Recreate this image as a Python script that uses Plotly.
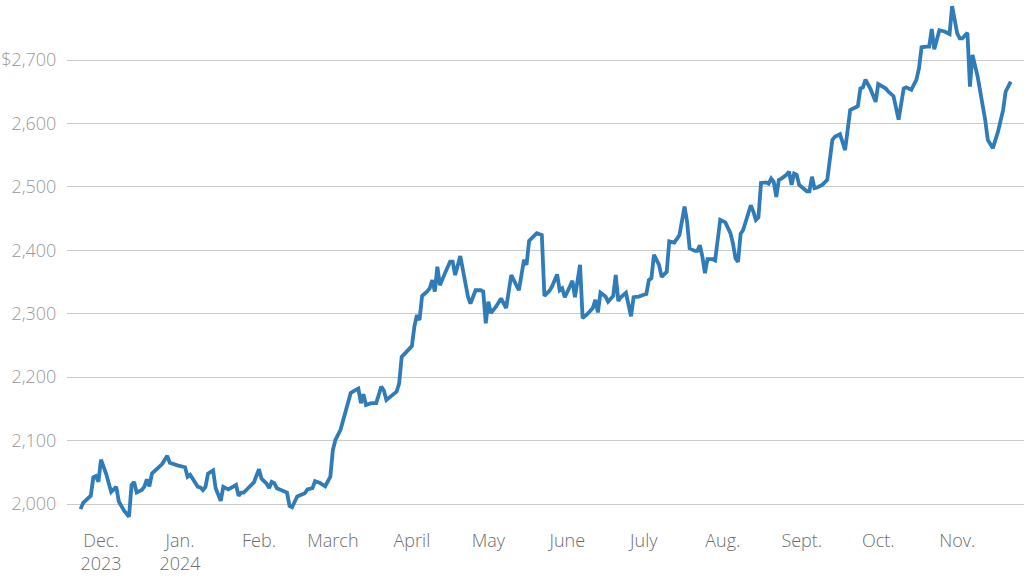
import plotly.graph_objects as go

dates = [
    "2023-11-23", "2023-11-24", "2023-11-27", "2023-11-28", "2023-11-29", "2023-11-30",
    "2023-12-01", "2023-12-03", "2023-12-05", "2023-12-07", "2023-12-08", "2023-12-10",
    "2023-12-12", "2023-12-13", "2023-12-14", "2023-12-15", "2023-12-17", "2023-12-18",
    "2023-12-19", "2023-12-20", "2023-12-21", "2023-12-23", "2023-12-25", "2023-12-27",
    "2023-12-28", "2023-12-31",
    "2024-01-03", "2024-01-04", "2024-01-05", "2024-01-08", "2024-01-09", "2024-01-10",
    "2024-01-11", "2024-01-12", "2024-01-14", "2024-01-15", "2024-01-17", "2024-01-18",
    "2024-01-20", "2024-01-23", "2024-01-24", "2024-01-25", "2024-01-26", "2024-01-28",
    "2024-01-30",
    "2024-02-01", "2024-02-02", "2024-02-04", "2024-02-05", "2024-02-06", "2024-02-07",
    "2024-02-08", "2024-02-10", "2024-02-12", "2024-02-13", "2024-02-14", "2024-02-16",
    "2024-02-18", "2024-02-19", "2024-02-20", "2024-02-22", "2024-02-23", "2024-02-25",
    "2024-02-27", "2024-02-28", "2024-02-29",
    "2024-03-01", "2024-03-02", "2024-03-04", "2024-03-05", "2024-03-06", "2024-03-07",
    "2024-03-08", "2024-03-10", "2024-03-11", "2024-03-12", "2024-03-13", "2024-03-14",
    "2024-03-16", "2024-03-18", "2024-03-20", "2024-03-21", "2024-03-22", "2024-03-26",
    "2024-03-27", "2024-03-28", "2024-03-30",
    "2024-04-01", "2024-04-02", "2024-04-03", "2024-04-04", "2024-04-05", "2024-04-07",
    "2024-04-08", "2024-04-09", "2024-04-10", "2024-04-11", "2024-04-12", "2024-04-14",
    "2024-04-16", "2024-04-17", "2024-04-18", "2024-04-20", "2024-04-21", "2024-04-23",
    "2024-04-24", "2024-04-26", "2024-04-28", "2024-04-29", "2024-04-30",
    "2024-05-01", "2024-05-02", "2024-05-04", "2024-05-06", "2024-05-08", "2024-05-10",
    "2024-05-11", "2024-05-13", "2024-05-15", "2024-05-16", "2024-05-17", "2024-05-20",
    "2024-05-22", "2024-05-23", "2024-05-25", "2024-05-26", "2024-05-28", "2024-05-29",
    "2024-05-30", "2024-05-31",
    "2024-06-02", "2024-06-03", "2024-06-04", "2024-06-06", "2024-06-07", "2024-06-09",
    "2024-06-11", "2024-06-12", "2024-06-13", "2024-06-14", "2024-06-16", "2024-06-17",
    "2024-06-19", "2024-06-20", "2024-06-21", "2024-06-22", "2024-06-24", "2024-06-26",
    "2024-06-27", "2024-06-29",
    "2024-07-01", "2024-07-02", "2024-07-03", "2024-07-04", "2024-07-05", "2024-07-07",
    "2024-07-08", "2024-07-10", "2024-07-11", "2024-07-13", "2024-07-15", "2024-07-16",
    "2024-07-17", "2024-07-18", "2024-07-19", "2024-07-21", "2024-07-22", "2024-07-23",
    "2024-07-24", "2024-07-25", "2024-07-26", "2024-07-28", "2024-07-29", "2024-07-31",
    "2024-08-02", "2024-08-04", "2024-08-05", "2024-08-06", "2024-08-07", "2024-08-08",
    "2024-08-09", "2024-08-10", "2024-08-12", "2024-08-13", "2024-08-14", "2024-08-15",
    "2024-08-16", "2024-08-18", "2024-08-19", "2024-08-20", "2024-08-21", "2024-08-22",
    "2024-08-23", "2024-08-24", "2024-08-26", "2024-08-27", "2024-08-28", "2024-08-29",
    "2024-08-30", "2024-08-31",
    "2024-09-01", "2024-09-02", "2024-09-03", "2024-09-04", "2024-09-05", "2024-09-06",
    "2024-09-07", "2024-09-09", "2024-09-10", "2024-09-11", "2024-09-13", "2024-09-14",
    "2024-09-16", "2024-09-18", "2024-09-20", "2024-09-23", "2024-09-24", "2024-09-25",
    "2024-09-26", "2024-09-28", "2024-09-30",
    "2024-10-01", "2024-10-04", "2024-10-05", "2024-10-07", "2024-10-09", "2024-10-11",
    "2024-10-12", "2024-10-14", "2024-10-16", "2024-10-17", "2024-10-18", "2024-10-20",
    "2024-10-21", "2024-10-22", "2024-10-23", "2024-10-25", "2024-10-27", "2024-10-29",
    "2024-10-30",
    "2024-11-01", "2024-11-02", "2024-11-03", "2024-11-05", "2024-11-06", "2024-11-07",
    "2024-11-09", "2024-11-11", "2024-11-12", "2024-11-13", "2024-11-15", "2024-11-17",
    "2024-11-19", "2024-11-20", "2024-11-22",
]

prices = [
    1992, 2002, 2013, 2042, 2044, 2035,
    2070, 2048, 2019, 2027, 2004, 1990,
    1980, 2030, 2035, 2018, 2022, 2027,
    2039, 2028, 2048, 2055, 2063, 2076,
    2065, 2061,
    2058, 2043, 2046, 2027, 2026, 2022,
    2027, 2048, 2053, 2025, 2005, 2027,
    2023, 2030, 2013, 2018, 2018, 2026,
    2034,
    2055, 2040, 2032, 2025, 2035, 2033,
    2025, 2021, 2018, 1997, 1995, 2012,
    2015, 2017, 2023, 2025, 2036, 2033,
    2028, 2035, 2043,
    2085, 2101, 2117, 2132, 2148, 2161,
    2175, 2180, 2182, 2159, 2173, 2156,
    2159, 2159, 2185, 2179, 2164, 2177,
    2190, 2232, 2240,
    2249, 2280, 2298, 2290, 2328, 2335,
    2340, 2353, 2335, 2374, 2345, 2364,
    2382, 2382, 2361, 2391, 2369, 2327,
    2316, 2337, 2337, 2335, 2285,
    2319, 2301, 2311, 2324, 2309, 2361,
    2353, 2337, 2385, 2377, 2415, 2427,
    2424, 2328, 2336, 2343, 2362, 2337,
    2340, 2326,
    2343, 2352, 2326, 2377, 2293, 2300,
    2309, 2322, 2302, 2333, 2327, 2319,
    2328, 2361, 2320, 2326, 2333, 2296,
    2326, 2327,
    2330, 2331, 2353, 2356, 2393, 2377,
    2358, 2366, 2414, 2412, 2424, 2445,
    2469, 2445, 2403, 2399, 2399, 2408,
    2390, 2364, 2386, 2386, 2384, 2448,
    2444, 2427, 2411, 2387, 2382, 2426,
    2432, 2445, 2471, 2461, 2448, 2452,
    2506, 2507, 2505, 2513, 2508, 2484,
    2511, 2513, 2519, 2524, 2503, 2521,
    2519, 2503,
    2500, 2496, 2493, 2493, 2516, 2498,
    2499, 2503, 2508, 2511, 2574, 2579,
    2583, 2558, 2621, 2627, 2655, 2657,
    2669, 2654, 2634,
    2662, 2655, 2650, 2643, 2606, 2655,
    2657, 2653, 2669, 2687, 2720, 2721,
    2721, 2749, 2717, 2747, 2745, 2741,
    2785,
    2742, 2734, 2734, 2743, 2658, 2708,
    2674, 2632, 2605, 2574, 2561, 2587,
    2621, 2650, 2666,
]

month_ticks = ["2023-12-01", "2024-01-01", "2024-02-01", "2024-03-01", "2024-04-01",
               "2024-05-01", "2024-06-01", "2024-07-01", "2024-08-01", "2024-09-01",
               "2024-10-01", "2024-11-01"]
month_labels = ["Dec.<br>2023", "Jan.<br>2024", "Feb.", "March", "April", "May",
                "June", "July", "Aug.", "Sept.", "Oct.", "Nov."]

y_ticks = [2000, 2100, 2200, 2300, 2400, 2500, 2600, 2700]
y_labels = ["2,000", "2,100", "2,200", "2,300", "2,400", "2,500", "2,600", "$2,700"]

fig = go.Figure()
fig.add_trace(go.Scatter(
    x=dates, y=prices, mode="lines",
    line=dict(color="#2f7cb9", width=3.8),
    hoverinfo="skip",
))

fig.update_layout(
    width=1024, height=578,
    margin=dict(l=67, r=0, t=0, b=58),
    paper_bgcolor="white", plot_bgcolor="white",
    showlegend=False,
    font=dict(family="Open Sans, Lato, sans-serif", size=18),
)
fig.update_xaxes(
    range=["2023-11-17 16:00", "2024-11-27 05:00"],
    tickvals=month_ticks, ticktext=month_labels,
    showgrid=False, zeroline=False, showline=False,
    ticks="outside", ticklen=4, tickcolor="rgba(0,0,0,0)",
    tickfont=dict(color="#6e6e6e", size=18, weight=300),
    automargin=False,
)
fig.update_yaxes(
    range=[1974.8, 2794.6],
    tickvals=y_ticks, ticktext=y_labels,
    showgrid=True, gridcolor="#cacaca", gridwidth=1,
    zeroline=False, showline=False,
    ticks="outside", ticklen=6, tickcolor="rgba(0,0,0,0)",
    tickfont=dict(color="#999999", size=18, weight=300),
    automargin=False,
)

fig.write_html("out.html", config={"displayModeBar": False},
               post_script="document.body.style.margin='0';")
